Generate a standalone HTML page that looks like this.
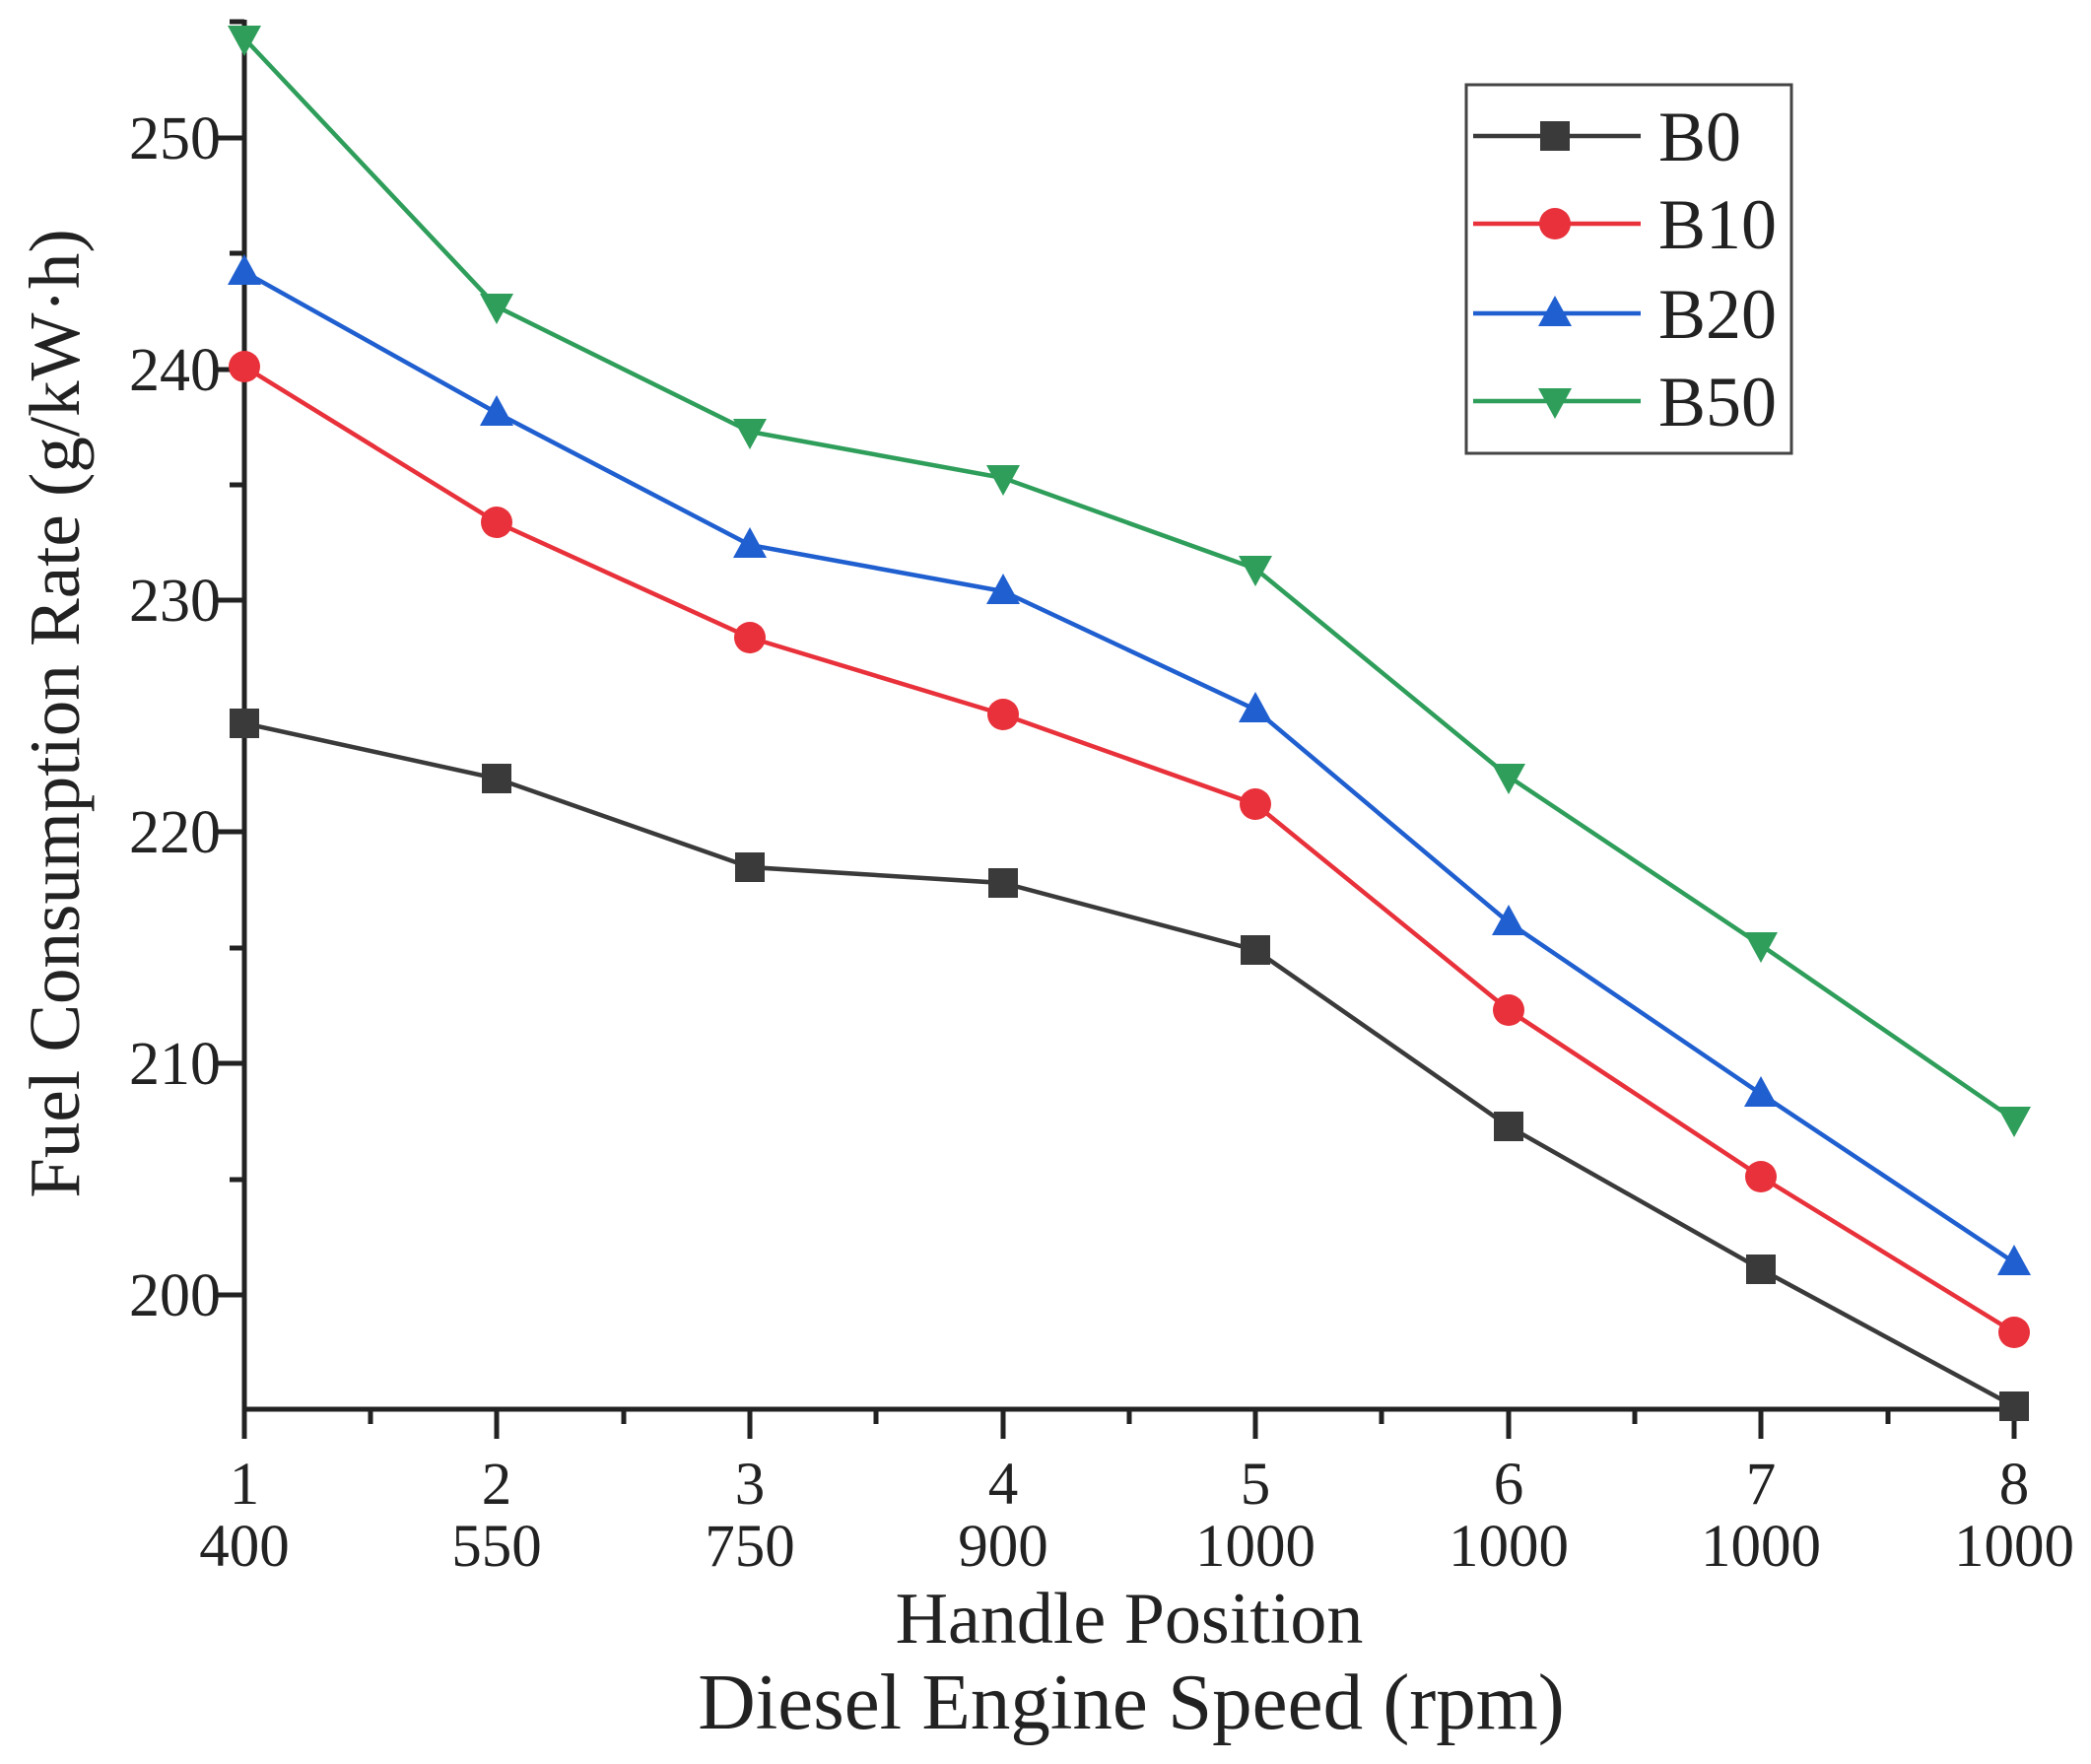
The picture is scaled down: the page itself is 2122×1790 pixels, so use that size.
<!DOCTYPE html>
<html><head><style>html,body{margin:0;padding:0;background:#fff}svg{display:block}</style></head>
<body>
<svg width="2122" height="1790" viewBox="0 0 2122 1790" xmlns="http://www.w3.org/2000/svg" font-family="Liberation Serif, serif">
<defs>
<rect id="sq" x="-15" y="-15" width="30" height="30" fill="#3a3a3a"/>
<circle id="ci" r="16" fill="#e8313a"/>
<polygon id="tu" points="0,-18 17,13 -17,13" fill="#1f5fd0"/>
<polygon id="td" points="0,18 17,-13 -17,-13" fill="#2e9e5a"/>
</defs>
<g stroke="#222" stroke-width="5" fill="none">
<line x1="248" y1="20" x2="248" y2="1432"/>
<line x1="246" y1="1430" x2="2044" y2="1430"/>
<path d="M218 1314H248M218 1079H248M218 844H248M218 609H248M218 375H248M218 140H248"/>
<path d="M233 1197H248M233 962H248M233 727H248M233 492H248M233 257H248M233 22H248"/>
<path d="M248 1430V1460M504 1430V1460M761 1430V1460M1018 1430V1460M1274 1430V1460M1531 1430V1460M1787 1430V1460M2044 1430V1460"/>
<path d="M376 1430V1445M633 1430V1445M889 1430V1445M1146 1430V1445M1402 1430V1445M1659 1430V1445M1916 1430V1445"/>
</g>
<g font-size="62" fill="#222" text-anchor="end">
<text x="224" y="1335">200</text><text x="224" y="1100">210</text><text x="224" y="865">220</text>
<text x="224" y="630">230</text><text x="224" y="396">240</text><text x="224" y="161">250</text>
</g>
<g font-size="61" fill="#222" text-anchor="middle">
<text x="248" y="1526">1</text><text x="504" y="1526">2</text><text x="761" y="1526">3</text><text x="1018" y="1526">4</text>
<text x="1274" y="1526">5</text><text x="1531" y="1526">6</text><text x="1787" y="1526">7</text><text x="2044" y="1526">8</text>
<text x="248" y="1589">400</text><text x="504" y="1589">550</text><text x="761" y="1589">750</text><text x="1018" y="1589">900</text>
<text x="1274" y="1589">1000</text><text x="1531" y="1589">1000</text><text x="1787" y="1589">1000</text><text x="2044" y="1589">1000</text>
<text x="1146" y="1667" font-size="74">Handle Position</text>
<text x="1148" y="1754" font-size="81">Diesel Engine Speed (rpm)</text>
<text transform="translate(80,724) rotate(-90)" font-size="73">Fuel Consumption Rate (g/kW·h)</text>
</g>
<g fill="none" stroke-width="4.5">
<polyline stroke="#3a3a3a" points="248,734 504,790 761,880 1018,896 1274,964 1531,1143 1787,1288 2044,1427"/>
<polyline stroke="#e8313a" points="248,372 504,530 761,647 1018,725 1274,816 1531,1025 1787,1194 2044,1352"/>
<polyline stroke="#1f5fd0" points="248,276 504,419 761,553 1018,600 1274,720 1531,936 1787,1110 2044,1281"/>
<polyline stroke="#2e9e5a" points="248,39 504,311 761,438 1018,485 1274,577 1531,788 1787,959 2044,1136"/>
</g>
<use href="#sq" x="248" y="734"/><use href="#sq" x="504" y="790"/><use href="#sq" x="761" y="880"/><use href="#sq" x="1018" y="896"/><use href="#sq" x="1274" y="964"/><use href="#sq" x="1531" y="1143"/><use href="#sq" x="1787" y="1288"/><use href="#sq" x="2044" y="1427"/>
<use href="#ci" x="248" y="372"/><use href="#ci" x="504" y="530"/><use href="#ci" x="761" y="647"/><use href="#ci" x="1018" y="725"/><use href="#ci" x="1274" y="816"/><use href="#ci" x="1531" y="1025"/><use href="#ci" x="1787" y="1194"/><use href="#ci" x="2044" y="1352"/>
<use href="#tu" x="248" y="276"/><use href="#tu" x="504" y="419"/><use href="#tu" x="761" y="553"/><use href="#tu" x="1018" y="600"/><use href="#tu" x="1274" y="720"/><use href="#tu" x="1531" y="936"/><use href="#tu" x="1787" y="1110"/><use href="#tu" x="2044" y="1281"/>
<use href="#td" x="248" y="39"/><use href="#td" x="504" y="311"/><use href="#td" x="761" y="438"/><use href="#td" x="1018" y="485"/><use href="#td" x="1274" y="577"/><use href="#td" x="1531" y="788"/><use href="#td" x="1787" y="959"/><use href="#td" x="2044" y="1136"/>
<rect x="1488" y="86" width="330" height="374" fill="#fff" stroke="#444" stroke-width="3"/>
<g stroke-width="4.5">
<line x1="1495" y1="138" x2="1665" y2="138" stroke="#3a3a3a"/>
<line x1="1495" y1="227" x2="1665" y2="227" stroke="#e8313a"/>
<line x1="1495" y1="318" x2="1665" y2="318" stroke="#1f5fd0"/>
<line x1="1495" y1="407" x2="1665" y2="407" stroke="#2e9e5a"/>
</g>
<use href="#sq" x="1578" y="138"/><use href="#ci" x="1578" y="227"/><use href="#tu" x="1578" y="318"/><use href="#td" x="1578" y="407"/>
<g font-size="72" fill="#222">
<text x="1683" y="163">B0</text><text x="1683" y="252">B10</text><text x="1683" y="343">B20</text><text x="1683" y="432">B50</text>
</g>
</svg>
</body></html>
